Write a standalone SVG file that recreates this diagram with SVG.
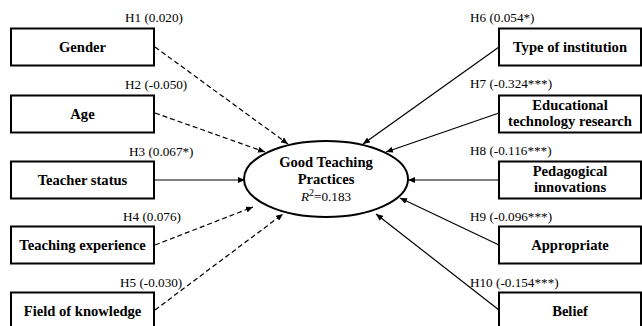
<svg xmlns="http://www.w3.org/2000/svg" width="642" height="326" viewBox="0 0 642 326">
<style>
.box{fill:#fff;stroke:#000;stroke-width:2}
.bl{font-family:"Liberation Serif","Times New Roman",serif;font-weight:bold;font-size:14.6px;fill:#000;text-anchor:middle}
.hl{font-family:"Liberation Serif","Times New Roman",serif;font-size:13.2px;fill:#000}
.c{fill:none;stroke:#000;stroke-width:1.2}
.d{stroke-dasharray:5,3}
</style>
<defs>
<marker id="ah" markerUnits="userSpaceOnUse" markerWidth="8" markerHeight="6" refX="7" refY="3" orient="auto">
<path d="M0,0 L7,3 L0,6 z" fill="#000"/>
</marker>
</defs>
<rect width="642" height="326" fill="#fff"/>
<g id="connectors">
<line class="c d" x1="155" y1="47" x2="288" y2="144" marker-end="url(#ah)"/>
<line class="c d" x1="155" y1="113" x2="265" y2="152" marker-end="url(#ah)"/>
<line class="c" x1="155" y1="180" x2="245" y2="180" marker-end="url(#ah)"/>
<line class="c d" x1="155" y1="245" x2="253" y2="207" marker-end="url(#ah)"/>
<line class="c d" x1="155" y1="310" x2="283" y2="214" marker-end="url(#ah)"/>
<line class="c" x1="499" y1="47" x2="363" y2="144" marker-end="url(#ah)"/>
<line class="c" x1="499" y1="113" x2="386" y2="152" marker-end="url(#ah)"/>
<line class="c" x1="499" y1="180" x2="408" y2="180" marker-end="url(#ah)"/>
<line class="c" x1="499" y1="245" x2="400" y2="198" marker-end="url(#ah)"/>
<line class="c" x1="499" y1="310" x2="376" y2="214" marker-end="url(#ah)"/>
</g>
<g id="gtp">
<ellipse cx="326" cy="179" rx="82" ry="38" fill="#fff" stroke="#000" stroke-width="2"/>
<text class="bl" x="326" y="167">Good Teaching</text>
<text class="bl" x="326" y="184">Practices</text>
<text class="hl" x="326" y="201" text-anchor="middle" font-size="14.5"><tspan font-style="italic">R</tspan><tspan dy="-5" font-size="10">2</tspan><tspan dy="5">=0.183</tspan></text>
</g>
<g id="gender">
<rect class="box" x="11" y="28.5" width="143" height="37"/>
<text class="bl" x="82.5" y="52">Gender</text>
<text class="hl" x="125" y="22">H1 (0.020)</text>
</g>
<g id="age">
<rect class="box" x="11" y="95.5" width="143" height="37"/>
<text class="bl" x="82.5" y="119">Age</text>
<text class="hl" x="125" y="89">H2 (-0.050)</text>
</g>
<g id="teacher-status">
<rect class="box" x="11" y="161.5" width="143" height="37"/>
<text class="bl" x="82.5" y="185">Teacher status</text>
<text class="hl" x="129" y="156">H3 (0.067*)</text>
</g>
<g id="teaching-experience">
<rect class="box" x="11" y="226.5" width="143" height="37"/>
<text class="bl" x="82.5" y="250">Teaching experience</text>
<text class="hl" x="123" y="221">H4 (0.076)</text>
</g>
<g id="field-of-knowledge">
<rect class="box" x="11" y="292.5" width="143" height="37"/>
<text class="bl" x="82.5" y="316">Field of knowledge</text>
<text class="hl" x="120" y="287">H5 (-0.030)</text>
</g>
<g id="type-of-institution">
<rect class="box" x="499" y="28.5" width="142" height="37"/>
<text class="bl" x="570" y="52">Type of institution</text>
<text class="hl" x="470" y="22">H6 (0.054*)</text>
</g>
<g id="edu-tech-research">
<rect class="box" x="499" y="95.5" width="142" height="37"/>
<text class="bl" x="570" y="110">Educational</text>
<text class="bl" x="570" y="126">technology research</text>
<text class="hl" x="470" y="88">H7 (-0.324***)</text>
</g>
<g id="pedagogical-innovations">
<rect class="box" x="499" y="161.5" width="142" height="37"/>
<text class="bl" x="570" y="176">Pedagogical</text>
<text class="bl" x="570" y="192">innovations</text>
<text class="hl" x="470" y="155">H8 (-0.116***)</text>
</g>
<g id="appropriate">
<rect class="box" x="499" y="226.5" width="142" height="37"/>
<text class="bl" x="570" y="250">Appropriate</text>
<text class="hl" x="470" y="221">H9 (-0.096***)</text>
</g>
<g id="belief">
<rect class="box" x="499" y="292.5" width="142" height="37"/>
<text class="bl" x="570" y="316">Belief</text>
<text class="hl" x="470" y="287">H10 (-0.154***)</text>
</g>
</svg>
